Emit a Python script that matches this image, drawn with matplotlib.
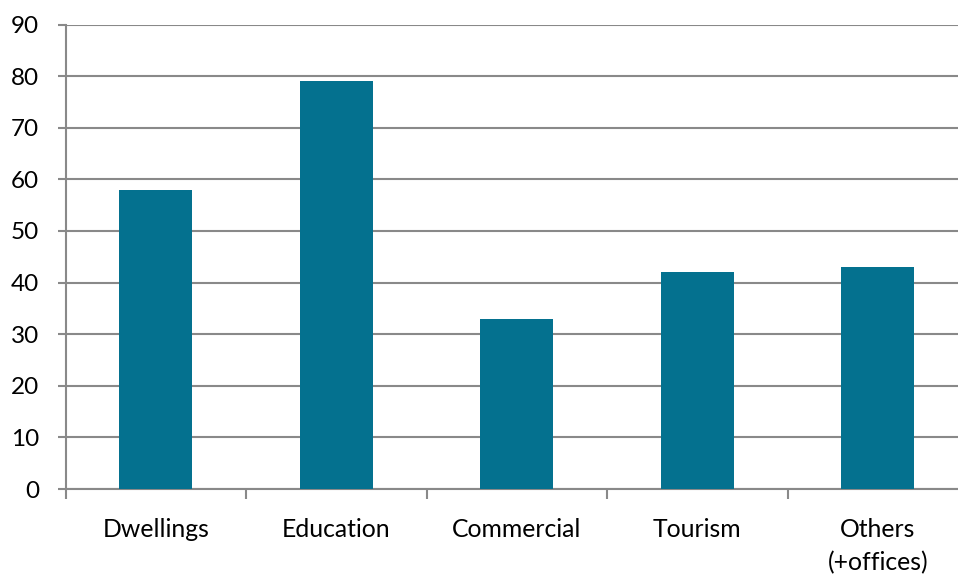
import matplotlib
matplotlib.use("Agg")
import matplotlib.pyplot as plt
import numpy as np

categories = ["Dwellings", "Education", "Commercial", "Tourism", "Others\n(+offices)"]
values = [58, 79, 33, 42, 43]
yticks = [0, 10, 20, 30, 40, 50, 60, 70, 80, 90]

BAR = "#04718f"
GRID = "#898989"

plt.rcParams['font.family'] = ['Lato', 'DejaVu Sans']

fig = plt.figure(figsize=(9.58, 5.74), dpi=100)
W, H = 958, 574
left, right, top, bottom = 65.5, 968, 24.5, 489
ax = fig.add_axes([left / W, 1 - bottom / H, (right - left) / W, (bottom - top) / H])

x = np.arange(len(categories))
ax.bar(x, values, width=0.405, color=BAR, zorder=3)

ax.set_xlim(-0.5, len(categories) - 0.5)
ax.set_ylim(0, 90)
ax.set_yticks(yticks)
ax.yaxis.grid(True, color=GRID, linewidth=1.5, zorder=0)
ax.set_xticks(x)
ax.set_xticklabels(categories, fontsize=17.8, linespacing=1.5)
ax.set_xticks(np.arange(len(categories) + 1) - 0.5, minor=True)
ax.tick_params(axis='x', which='major', length=0, pad=21)
ax.tick_params(axis='x', which='minor', length=7.5, width=1.5, color=GRID)
ax.tick_params(axis='y', length=6, width=1.5, color=GRID, labelsize=17.5, pad=13)

for s in ['top', 'right']:
    ax.spines[s].set_visible(False)
for s in ['left', 'bottom']:
    ax.spines[s].set_color(GRID)
    ax.spines[s].set_linewidth(1.5)

fig.savefig("out.png", dpi=100)
